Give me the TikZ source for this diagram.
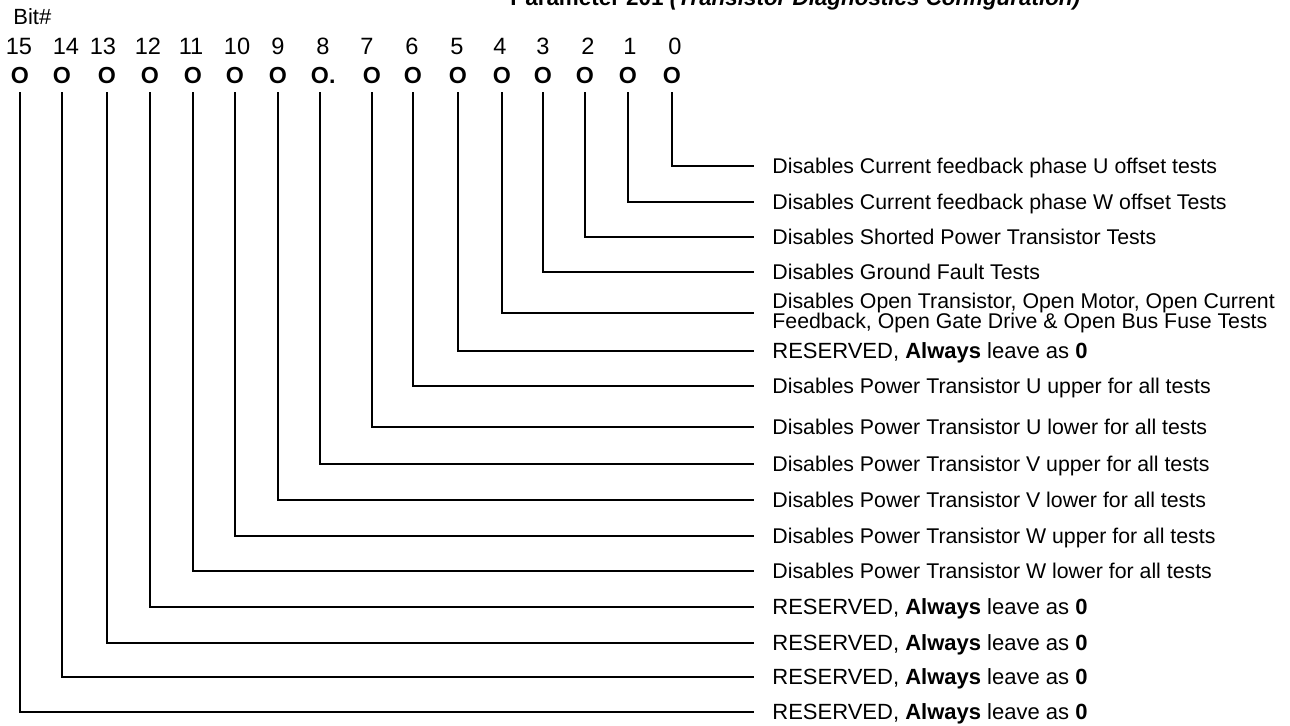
\documentclass[tikz,border=0pt]{standalone}
\usepackage{fontspec}
\setmainfont{Liberation Sans}

\begin{document}
\begin{tikzpicture}[
  x=0.5pt, y=-0.5pt,
  bit/.style={anchor=base, inner xsep=0pt, inner ysep=4pt, text depth=0pt, font=\fontsize{11.6}{13}\selectfont\bfseries},
  num/.style={anchor=base, inner sep=0pt, font=\fontsize{11.8}{14}\selectfont},
  lab/.style={anchor=west, inner xsep=9pt, inner ysep=0pt, text height=7.6pt, text depth=0pt, font=\fontsize{10.65}{12}\selectfont},
  labtwo/.style={anchor=west, inner xsep=9pt, inner ysep=0pt, align=left, font=\fontsize{10.65}{10}\selectfont},
  res/.style={anchor=west, inner xsep=9pt, inner ysep=0pt, text height=7.9pt, text depth=0pt, font=\fontsize{11}{13}\selectfont},
  wire/.style={line width=1.2pt}
]
\useasboundingbox (0,0) rectangle (1290,726);

% heading
\node[anchor=base west, inner sep=0pt, font=\fontsize{11.2}{13}\selectfont\bfseries] (title) at (510,6) {Parameter 201 \textit{(Transistor Diagnostics Configuration)}};
\node[anchor=base west, inner sep=0pt, font=\fontsize{11}{13}\selectfont] (bitno) at (13,25) {Bit\#};

% bit numbers
\node[num] (n15) at (19,55) {15};
\node[num] (n14) at (66,55) {14};
\node[num] (n13) at (103,55) {13};
\node[num] (n12) at (148,55) {12};
\node[num] (n11) at (191,55) {11};
\node[num] (n10) at (237,55) {10};
\node[num] (n9) at (278,55) {9};
\node[num] (n8) at (323,55) {8};
\node[num] (n7) at (367,55) {7};
\node[num] (n6) at (412,55) {6};
\node[num] (n5) at (457,55) {5};
\node[num] (n4) at (500,55) {4};
\node[num] (n3) at (543,55) {3};
\node[num] (n2) at (588,55) {2};
\node[num] (n1) at (630,55) {1};
\node[num] (n0) at (675,55) {0};

% bit values
\node[bit] (b15) at (20,84) {O};
\node[bit] (b14) at (62,84) {O};
\node[bit] (b13) at (107,84) {O};
\node[bit] (b12) at (150,84) {O};
\node[bit] (b11) at (193,84) {O};
\node[bit] (b10) at (235,84) {O};
\node[bit] (b9) at (278,84) {O};
\node[bit] (b8) at (320,84) {O\rlap{.}};
\node[bit] (b7) at (372,84) {O};
\node[bit] (b6) at (413,84) {O};
\node[bit] (b5) at (458,84) {O};
\node[bit] (b4) at (502,84) {O};
\node[bit] (b3) at (543,84) {O};
\node[bit] (b2) at (585,84) {O};
\node[bit] (b1) at (628,84) {O};
\node[bit] (b0) at (672,84) {O};

% descriptions
\node[lab] (l0) at (754,166) {Disables Current feedback phase U offset tests};
\node[lab] (l1) at (754,202) {Disables Current feedback phase W offset Tests};
\node[lab] (l2) at (754,237) {Disables Shorted Power Transistor Tests};
\node[lab] (l3) at (754,272) {Disables Ground Fault Tests};
\node[labtwo] (l4) at (754,313) {Disables Open Transistor, Open Motor, Open Current\\Feedback, Open Gate Drive \& Open Bus Fuse Tests};
\node[res] (l5) at (754,351) {RESERVED, \textbf{Always} leave as \textbf{0}};
\node[lab] (l6) at (754,386) {Disables Power Transistor U upper for all tests};
\node[lab] (l7) at (754,427) {Disables Power Transistor U lower for all tests};
\node[lab] (l8) at (754,464) {Disables Power Transistor V upper for all tests};
\node[lab] (l9) at (754,500) {Disables Power Transistor V lower for all tests};
\node[lab] (l10) at (754,536) {Disables Power Transistor W upper for all tests};
\node[lab] (l11) at (754,571) {Disables Power Transistor W lower for all tests};
\node[res] (l12) at (754,607) {RESERVED, \textbf{Always} leave as \textbf{0}};
\node[res] (l13) at (754,643) {RESERVED, \textbf{Always} leave as \textbf{0}};
\node[res] (l14) at (754,677) {RESERVED, \textbf{Always} leave as \textbf{0}};
\node[res] (l15) at (754,712) {RESERVED, \textbf{Always} leave as \textbf{0}};

% leaders
\draw[wire] (b0) |- (l0);
\draw[wire] (b1) |- (l1);
\draw[wire] (b2) |- (l2);
\draw[wire] (b3) |- (l3);
\draw[wire] (b4) |- (l4);
\draw[wire] (b5) |- (l5);
\draw[wire] (b6) |- (l6);
\draw[wire] (b7) |- (l7);
\draw[wire] (b8) |- (l8);
\draw[wire] (b9) |- (l9);
\draw[wire] (b10) |- (l10);
\draw[wire] (b11) |- (l11);
\draw[wire] (b12) |- (l12);
\draw[wire] (b13) |- (l13);
\draw[wire] (b14) |- (l14);
\draw[wire] (b15) |- (l15);
\end{tikzpicture}
\end{document}
